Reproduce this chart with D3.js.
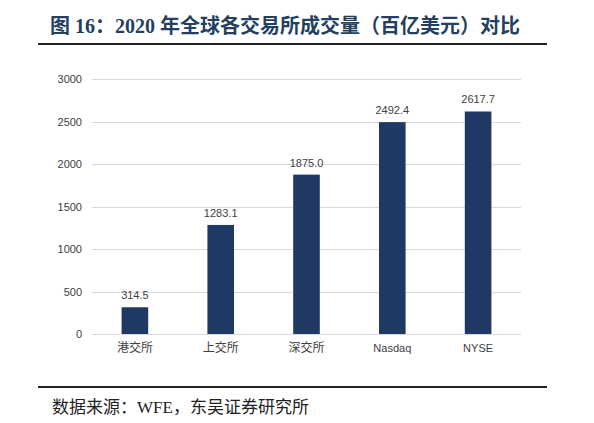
<!DOCTYPE html>
<html>
<head>
<meta charset="utf-8">
<script src="https://cdn.jsdelivr.net/npm/d3@7"></script>
<style>
  body { margin: 0; background: #fff; }
  svg { display: block; }
</style>
</head>
<body>
<svg id="chart"></svg>
<script>
const categories = ["港交所", "上交所", "深交所", "Nasdaq", "NYSE"];
const volumes = [314.5, 1283.1, 1875.0, 2492.4, 2617.7];
const yTicks = [0, 500, 1000, 1500, 2000, 2500, 3000];

const titleText = "图 16：2020 年全球各交易所成交量（百亿美元）对比";
const sourceText = "数据来源：WFE，东吴证券研究所";

const width = 594, height = 423;
const serif = "'Liberation Serif', 'Noto Sans CJK SC', serif";
const sans = "'Liberation Sans', Arial, 'Noto Sans CJK SC', sans-serif";

const svg = d3.select("#chart")
   .attr("width", width)
   .attr("height", height);

// title + rule
svg.append("text")
   .attr("x", 50)
   .attr("y", 33)
   .attr("font-family", serif)
   .attr("font-weight", "bold")
   .attr("font-size", 20)
   .attr("fill", "#243f60")
   .text(titleText);

svg.append("line")
   .attr("x1", 38).attr("x2", 547)
   .attr("y1", 44).attr("y2", 44)
   .attr("stroke", "#222")
   .attr("stroke-width", 2);

const x = d3.scaleBand()
   .domain(categories)
   .range([92, 521])
   .paddingInner(0.69)
   .paddingOuter(0.345);

const y = d3.scaleLinear()
   .domain([0, 3000])
   .range([334, 79]);

// gridlines
svg.append("g")
   .selectAll("line")
   .data(yTicks)
   .join("line")
   .attr("x1", 92).attr("x2", 521)
   .attr("y1", d => Math.round(y(d)) + 0.5)
   .attr("y2", d => Math.round(y(d)) + 0.5)
   .attr("stroke", "#d9d9d9")
   .attr("stroke-width", 1);

// y axis labels
const yAxis = svg.append("g")
   .attr("transform", "translate(82,0)")
   .call(d3.axisLeft(y).tickValues(yTicks).tickFormat(d3.format("d")).tickSize(0).tickPadding(0));
yAxis.select(".domain").remove();
yAxis.selectAll("text")
   .attr("font-family", sans)
   .attr("font-size", 11)
   .attr("fill", "#404040");

// bars
svg.append("g")
   .selectAll("rect")
   .data(volumes)
   .join("rect")
   .attr("x", (d, i) => x(categories[i]))
   .attr("y", d => y(d))
   .attr("width", x.bandwidth())
   .attr("height", d => y(0) - y(d))
   .attr("fill", "#203864");

// value labels
svg.append("g")
   .selectAll("text")
   .data(volumes)
   .join("text")
   .attr("x", (d, i) => x(categories[i]) + x.bandwidth() / 2)
   .attr("y", d => y(d) - 8)
   .attr("text-anchor", "middle")
   .attr("font-family", sans)
   .attr("font-size", 11)
   .attr("fill", "#404040")
   .text(d => d.toFixed(1));

// category labels
svg.append("g")
   .selectAll("text")
   .data(categories)
   .join("text")
   .attr("x", d => x(d) + x.bandwidth() / 2)
   .attr("y", 352)
   .attr("text-anchor", "middle")
   .attr("font-family", d => /^[A-Za-z]/.test(d) ? sans : serif)
   .attr("font-size", d => /^[A-Za-z]/.test(d) ? 11 : 12)
   .attr("fill", "#404040")
   .text(d => d);

// bottom rule + source
svg.append("line")
   .attr("x1", 38).attr("x2", 547)
   .attr("y1", 387).attr("y2", 387)
   .attr("stroke", "#222")
   .attr("stroke-width", 2);

svg.append("text")
   .attr("x", 52)
   .attr("y", 413)
   .attr("font-family", serif)
   .attr("font-size", 17)
   .attr("fill", "#222")
   .text(sourceText);
</script>
</body>
</html>
